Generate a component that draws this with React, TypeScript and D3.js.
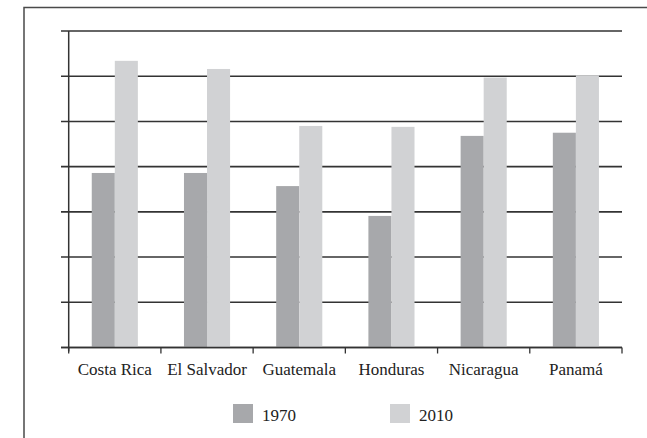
import React from 'react';
import * as d3 from 'd3';

const countries = ['Costa Rica', 'El Salvador', 'Guatemala', 'Honduras', 'Nicaragua', 'Panamá'];
const years = ['1970', '2010'];
const values1970 = [3.86, 3.86, 3.57, 2.91, 4.68, 4.75];
const values2010 = [6.34, 6.16, 4.9, 4.88, 5.97, 6.02];
const gridTicks = [0, 1, 2, 3, 4, 5, 6, 7];
const colors = ['#a7a8ab', '#d1d2d4'];

const width = 647;
const height = 438;
const margin = { top: 31, right: 25, bottom: 90.5, left: 68.7 };
const font = '"Liberation Serif", "Times New Roman", serif';

export default function App() {
  const x = d3.scaleBand<string>()
    .domain(countries)
    .range([margin.left, width - margin.right])
    .paddingInner(0.5)
    .paddingOuter(0.25);
  const step = x.step();
  const x1 = d3.scaleBand<string>().domain(years).range([0, x.bandwidth()]);
  const y = d3.scaleLinear().domain([0, 7]).range([height - margin.bottom, margin.top]);
  const series = [values1970, values2010];
  const bottom = y(0);
  const axisEnd = margin.left + step * countries.length;

  return (
    <svg width={width} height={height} style={{ position: 'absolute', left: 0, top: 0 }}>
      <rect width={width} height={height} fill="#fff" />
      {/* outer frame */}
      <path d={`M24,${height}V7.5H${width}`} fill="none" stroke="#4a4a4a" strokeWidth={1.5} />
      {/* grid */}
      {gridTicks.map(t => (
        <line key={t} x1={61} x2={axisEnd} y1={y(t)} y2={y(t)} stroke="#333" strokeWidth={1.6} />
      ))}
      {/* bars */}
      {countries.map((c, i) => (
        <g key={c} transform={`translate(${x(c)},0)`}>
          {years.map((yr, j) => (
            <rect key={yr} x={x1(yr)} y={y(series[j][i])} width={x1.bandwidth()}
              height={bottom - y(series[j][i])} fill={colors[j]} />
          ))}
        </g>
      ))}
      {/* axes */}
      <line x1={margin.left} x2={margin.left} y1={margin.top} y2={bottom + 4} stroke="#333" strokeWidth={1.5} />
      <line x1={61} x2={axisEnd} y1={bottom} y2={bottom} stroke="#333" strokeWidth={1.6} />
      {d3.range(countries.length + 1).map(k => (
        <line key={k} x1={margin.left + k * step} x2={margin.left + k * step}
          y1={bottom} y2={bottom + 6} stroke="#333" strokeWidth={1.3} />
      ))}
      {countries.map(c => (
        <text key={c} x={(x(c) ?? 0) + x.bandwidth() / 2} y={375} textAnchor="middle"
          fontFamily={font} fontSize={17} fill="#222">{c}</text>
      ))}
      {/* legend */}
      {years.map((yr, j) => (
        <g key={yr} transform={`translate(${233 + j * 157},404)`}>
          <rect width={20} height={19} fill={colors[j]} />
          <text x={29} y={17} fontFamily={font} fontSize={17} fill="#222">{yr}</text>
        </g>
      ))}
    </svg>
  );
}
